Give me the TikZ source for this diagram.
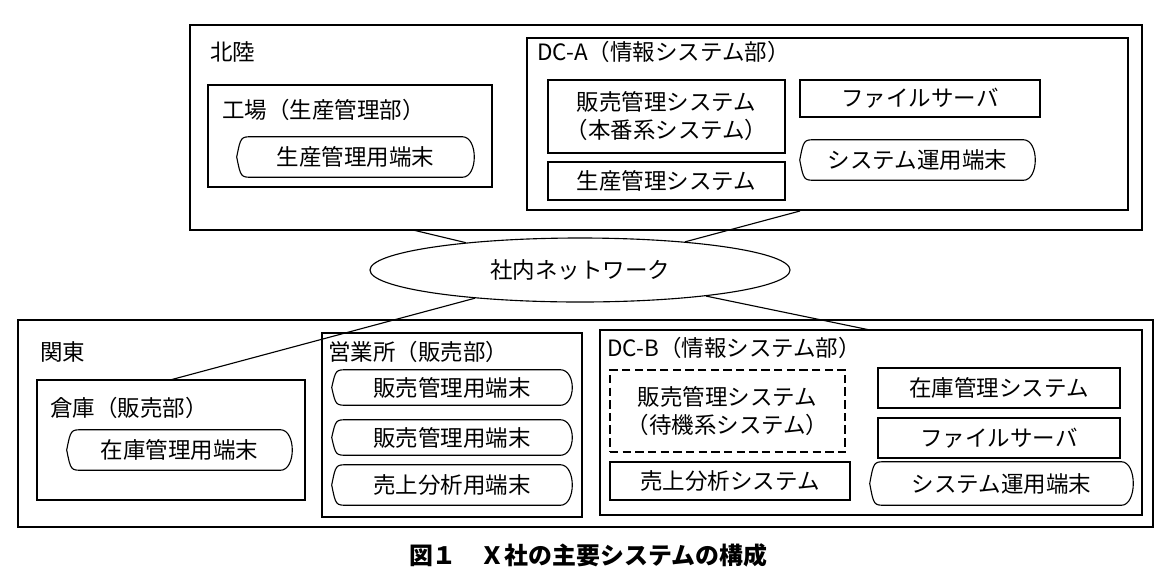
\documentclass[tikz,border=0pt]{standalone}
\usepackage{fontspec}
\setmainfont{Noto Sans CJK JP}
\usetikzlibrary{positioning}
\usetikzlibrary{calc}
\usetikzlibrary{shapes.geometric}

\begin{document}
\begin{tikzpicture}[x=0.025cm, y=-0.025cm,
        every node/.style={font=\fontsize{16}{20}\selectfont, inner sep=0pt},
        sz/.style 2 args={minimum width=#1*0.025cm, minimum height=#2*0.025cm},
        box/.style={draw, thick},
        lbl/.style={anchor=west},
        term/.style={append after command={\pgfextra{
            \draw[thick] ($(\tikzlastnode.north west)+(0.4cm,0)$) -- ($(\tikzlastnode.north east)+(-0.3cm,0)$)
                .. controls ($(\tikzlastnode.north east)+(0.1cm,0)$) and ($(\tikzlastnode.south east)+(0.1cm,0)$) .. ($(\tikzlastnode.south east)+(-0.3cm,0)$)
                -- ($(\tikzlastnode.south west)+(0.4cm,0)$)
                .. controls ($(\tikzlastnode.south west)+(0.1cm,0)$) .. (\tikzlastnode.west)
                .. controls ($(\tikzlastnode.north west)+(0.1cm,0)$) .. ($(\tikzlastnode.north west)+(0.4cm,0)$);}}}]
    \useasboundingbox (0,0) rectangle (1176,587);
    % Hokuriku
    \node[box, sz={952}{205}] (hokuriku) at (666,127.5) {};
    \node[lbl] (hokurikulbl) at (210,52) {北陸};
    \node[box, sz={284}{102}] (kojo) at (350,136) {};
    \node[lbl] (kojolbl) at (222,110) {工場（生産管理部）};
    \node[term, sz={237}{40}] (seisanterm) at (355.5,157) {生産管理用端末};
    \node[box, sz={601}{172}] (dca) at (827.5,124) {};
    \node[lbl] (dcalbl) at (537,52) {DC-A（情報システム部）};
    \node[box, sz={237}{73}, align=center] (hanbaiA) at (666.5,116.5) {販売管理システム\\（本番系システム）};
    \node[box, sz={237}{38}] (seisanA) at (666.5,181) {生産管理システム};
    \node[box, sz={240}{37}] (fileA) at (920,98.5) {ファイルサーバ};
    \node[term, sz={235}{40}] (unyoA) at (917.5,160) {システム運用端末};
    % Kanto
    \node[box, sz={1135}{207}] (kanto) at (585.5,423.5) {};
    \node[lbl] (kantolbl) at (40,352) {関東};
    \node[box, sz={268}{120}] (soko) at (171,440) {};
    \node[lbl] (sokolbl) at (50,408) {倉庫（販売部）};
    \node[term, sz={225}{40}] (zaikoterm) at (179.5,450) {在庫管理用端末};
    \node[box, sz={260}{184}] (eigyo) at (452,425) {};
    \node[lbl] (eigyolbl) at (328,352) {営業所（販売部）};
    \node[term, sz={240}{35}] (hanterm1) at (452,387.5) {販売管理用端末};
    \node[term, sz={240}{35}] (hanterm2) at (452,437.5) {販売管理用端末};
    \node[term, sz={240}{40}] (uriterm) at (452,485) {売上分析用端末};
    \node[box, sz={542}{185}] (dcb) at (871,422.5) {};
    \node[lbl] (dcblbl) at (607,348) {DC-B（情報システム部）};
    \node[draw, thick, dash pattern=on 6pt off 3pt, sz={235}{82}, align=center] (hanbaiB) at (727.5,411) {販売管理システム\\（待機系システム）};
    \node[box, sz={242}{40}] (zaikoB) at (999,388) {在庫管理システム};
    \node[box, sz={242}{40}] (fileB) at (999,438) {ファイルサーバ};
    \node[box, sz={240}{38}] (uriB) at (730,481) {売上分析システム};
    \node[term, sz={263}{43}] (unyoB) at (1001.5,483.5) {システム運用端末};
    % network
    \node[draw, thick, ellipse, sz={420}{64}] (net) at (580,270) {社内ネットワーク};
    \coordinate (c1) at (413,230);
    \coordinate (c2) at (800,211);
    \coordinate (c3) at (170,380);
    \coordinate (c4) at (870,330);
    \draw[thick] (net) -- (c1);
    \draw[thick] (net) -- (c2);
    \draw[thick] (net) -- (c3);
    \draw[thick] (net) -- (c4);
    \node[font=\fontsize{17}{20}\selectfont\bfseries] (caption) at (588,555) {図１　Ｘ社の主要システムの構成};
\end{tikzpicture}
\end{document}
